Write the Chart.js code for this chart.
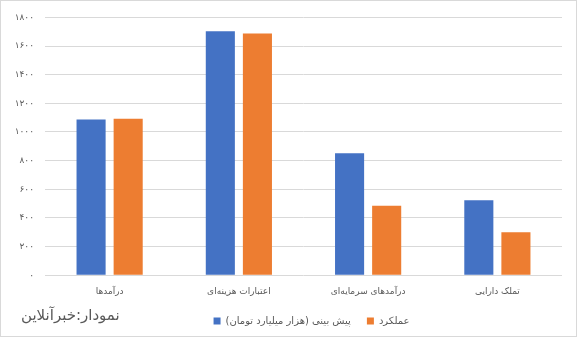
<!DOCTYPE html>
<html>
<head>
<meta charset="utf-8">
<script src="https://cdn.jsdelivr.net/npm/chart.js@4"></script>
<style>
	html, body { margin: 0; padding: 0; background: #fff; }
	#wrap { position: relative; width: 577px; height: 337px; box-sizing: border-box; border: 1px solid #d9d9d9; }
	#source { position: absolute; left: 20px; top: 305px; font: 15px "DejaVu Sans", sans-serif; color: #595959; direction: rtl; }
</style>
</head>
<body>
<div id="wrap">
	<canvas id="chart" width="575" height="335"></canvas>
	<div id="source">نمودار:خبرآنلاین</div>
</div>
<script>
	// categories and series
	const categories = ['درآمدها', 'اعتبارات هزینه‌ای', 'درآمدهای سرمایه‌ای', 'تملک دارایی'];
	const forecast = [1087, 1704, 851, 523];
	const actual = [1092, 1688, 485, 300];
	const seriesNames = ['پیش بینی (هزار میلیارد تومان)', 'عملکرد'];
	const persianDigits = ['۰', '۱', '۲', '۳', '۴', '۵', '۶', '۷', '۸', '۹'];

	function toPersian(n) {
		return String(n).replace(/[0-9]/g, d => persianDigits[d]);
	}

	const fontFamily = '"DejaVu Sans", sans-serif';

	// legend sits a bit right of centre in the original
	const shiftLegend = {
		id: 'shiftLegend',
		afterLayout: function (chart) {
			const legend = chart.legend;
			legend.left += 30;
			legend.right += 30;
		}
	};

	new Chart(document.getElementById('chart'), {
		type: 'bar',
		data: {
			labels: categories,
			datasets: [{
				label: seriesNames[0],
				data: forecast,
				backgroundColor: '#4472C4',
				categoryPercentage: 0.574,
				barPercentage: 0.784,
			}, {
				label: seriesNames[1],
				data: actual,
				backgroundColor: '#ED7D31',
				categoryPercentage: 0.574,
				barPercentage: 0.784,
			}]
		},
		options: {
			responsive: false,
			animation: false,
			layout: {
				padding: {top: 10, right: 14, bottom: 0, left: 0}
			},
			plugins: {
				tooltip: {enabled: false},
				legend: {
					position: 'bottom',
					labels: {
						boxWidth: 7,
						boxHeight: 7,
						padding: 16,
						color: '#595959',
						font: {family: fontFamily, size: 10}
					}
				}
			},
			scales: {
				x: {
					grid: {display: false},
					border: {display: false},
					ticks: {
						color: '#595959',
						padding: 3,
						maxRotation: 0,
						font: {family: fontFamily, size: 9}
					}
				},
				y: {
					min: 0,
					max: 1800,
					afterFit: function (scale) {
						scale.width = 44;
					},
					grid: {color: '#d9d9d9', lineWidth: 1, drawTicks: false},
					border: {display: false},
					ticks: {
						stepSize: 200,
						padding: 11,
						color: '#595959',
						font: {family: fontFamily, size: 9},
						callback: function (value) {
							return toPersian(value);
						}
					}
				}
			}
		},
		plugins: [shiftLegend]
	});
</script>
</body>
</html>
